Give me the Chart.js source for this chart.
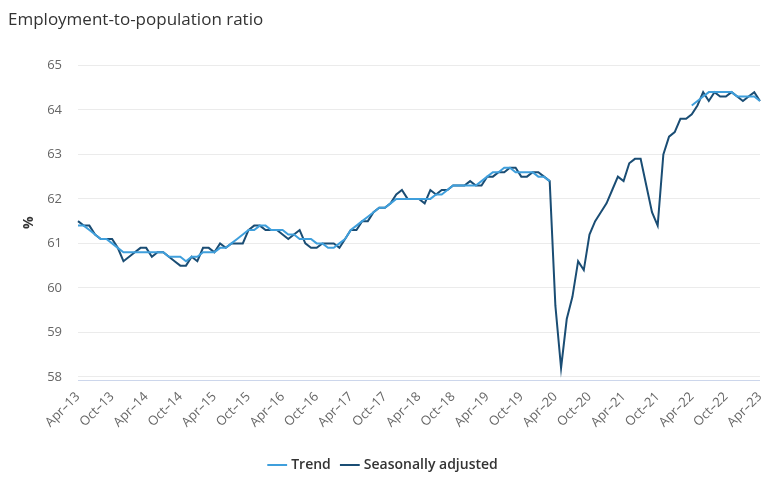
<!DOCTYPE html>
<html>
<head>
<meta charset="utf-8">
<script src="https://cdn.jsdelivr.net/npm/chart.js@4/dist/chart.umd.min.js"></script>
<style>
  html, body { margin: 0; padding: 0; background: #fff; }
  #wrap { width: 780px; height: 486px; }
</style>
</head>
<body>
<div id="wrap"><canvas id="ratioChart"></canvas></div>
<script>
// months Apr-13 .. Apr-23
const monthNames = ['Jan', 'Feb', 'Mar', 'Apr', 'May', 'Jun', 'Jul', 'Aug', 'Sep', 'Oct', 'Nov', 'Dec'];
const labels = [];
for (let k = 0; k <= 120; k++) {
    const m = (3 + k) % 12;
    const yr = 13 + Math.floor((3 + k) / 12);
    labels.push(monthNames[m] + '\u2013' + yr);
}

const seasonallyAdjusted = [
    61.5, 61.4, 61.4, 61.2, 61.1, 61.1, 61.1, 60.9, 60.6, 60.7, 60.8, 60.9,
    60.9, 60.7, 60.8, 60.8, 60.7, 60.6, 60.5, 60.5, 60.7, 60.6, 60.9, 60.9,
    60.8, 61.0, 60.9, 61.0, 61.0, 61.0, 61.3, 61.4, 61.4, 61.3, 61.3, 61.3,
    61.2, 61.1, 61.2, 61.3, 61.0, 60.9, 60.9, 61.0, 61.0, 61.0, 60.9, 61.1,
    61.3, 61.3, 61.5, 61.5, 61.7, 61.8, 61.8, 61.9, 62.1, 62.2, 62.0, 62.0,
    62.0, 61.9, 62.2, 62.1, 62.2, 62.2, 62.3, 62.3, 62.3, 62.4, 62.3, 62.3,
    62.5, 62.5, 62.6, 62.6, 62.7, 62.7, 62.5, 62.5, 62.6, 62.6, 62.5, 62.4,
    59.6, 58.2, 59.3, 59.8, 60.6, 60.4, 61.2, 61.5, 61.7, 61.9, 62.2, 62.5,
    62.4, 62.8, 62.9, 62.9, 62.3, 61.7, 61.4, 63.0, 63.4, 63.5, 63.8, 63.8,
    63.9, 64.1, 64.4, 64.2, 64.4, 64.3, 64.3, 64.4, 64.3, 64.2, 64.3, 64.4,
    64.2
];

// trend suspended Apr-20 .. Mar-22
const trend = [
    61.4, 61.4, 61.3, 61.2, 61.1, 61.1, 61.0, 60.9, 60.8, 60.8, 60.8, 60.8,
    60.8, 60.8, 60.8, 60.8, 60.7, 60.7, 60.7, 60.6, 60.7, 60.7, 60.8, 60.8,
    60.8, 60.9, 60.9, 61.0, 61.1, 61.2, 61.3, 61.3, 61.4, 61.4, 61.3, 61.3,
    61.3, 61.2, 61.2, 61.1, 61.1, 61.1, 61.0, 61.0, 60.9, 60.9, 61.0, 61.1,
    61.3, 61.4, 61.5, 61.6, 61.7, 61.8, 61.8, 61.9, 62.0, 62.0, 62.0, 62.0,
    62.0, 62.0, 62.0, 62.1, 62.1, 62.2, 62.3, 62.3, 62.3, 62.3, 62.3, 62.4,
    62.5, 62.6, 62.6, 62.7, 62.7, 62.6, 62.6, 62.6, 62.6, 62.5, 62.5, 62.4,
    null, null, null, null, null, null, null, null, null, null, null, null,
    null, null, null, null, null, null, null, null, null, null, null, null,
    64.1, 64.2, 64.3, 64.4, 64.4, 64.4, 64.4, 64.4, 64.3, 64.3, 64.3, 64.3,
    64.2
];

const yTicks = [58, 59, 60, 61, 62, 63, 64, 65];

Chart.defaults.font.family = '"Open Sans", sans-serif';
Chart.defaults.color = '#666';

const ctx = document.getElementById('ratioChart').getContext('2d');
const myChart = new Chart(ctx, {
    type: 'line',
    data: {
        labels: labels,
        datasets: [{
            label: 'Trend',
            data: trend,
            borderColor: '#3f9fdc',
            backgroundColor: '#3f9fdc',
            borderWidth: 2,
            pointRadius: 0,
            spanGaps: false
        }, {
            label: 'Seasonally adjusted',
            data: seasonallyAdjusted,
            borderColor: '#1a4d74',
            backgroundColor: '#1a4d74',
            borderWidth: 2,
            pointRadius: 0
        }]
    },
    options: {
        responsive: true,
        maintainAspectRatio: false,
        animation: false,
        layout: { padding: { left: 8, right: 20, top: 0, bottom: 4 } },
        plugins: {
            title: {
                display: true,
                text: 'Employment-to-population ratio',
                align: 'start',
                color: '#333',
                font: { size: 17, weight: 'normal' },
                padding: { top: 10, bottom: 35 }
            },
            legend: {
                position: 'bottom',
                labels: {
                    usePointStyle: true,
                    pointStyle: 'line',
                    boxWidth: 14,
                    color: '#333',
                    font: { size: 14, weight: '600' },
                    padding: 12
                }
            },
            tooltip: { enabled: false }
        },
        scales: {
            x: {
                grid: { display: false, drawTicks: false },
                border: { display: true, color: '#ccd6eb', width: 1 },
                ticks: {
                    autoSkip: false,
                    maxRotation: 45,
                    minRotation: 45,
                    padding: 9,
                    font: { size: 13 },
                    callback: function (val, index) {
                        return index % 6 === 0 ? labels[index] : null;
                    }
                },
                afterFit: function (scale) { scale.height = 66; }
            },
            y: {
                min: 57.93,
                max: 65,
                afterBuildTicks: function (scale) {
                    scale.ticks = yTicks.map(v => ({ value: v }));
                },
                grid: { color: '#ebebeb', drawTicks: false },
                border: { display: false },
                ticks: { padding: 16, font: { size: 13 } },
                title: {
                    display: true,
                    text: '%',
                    color: '#333',
                    font: { size: 14, weight: 'bold' },
                    padding: { top: 13, bottom: 0 }
                },
                afterFit: function (scale) { scale.width = 70; }
            }
        }
    }
});
</script>
</body>
</html>
